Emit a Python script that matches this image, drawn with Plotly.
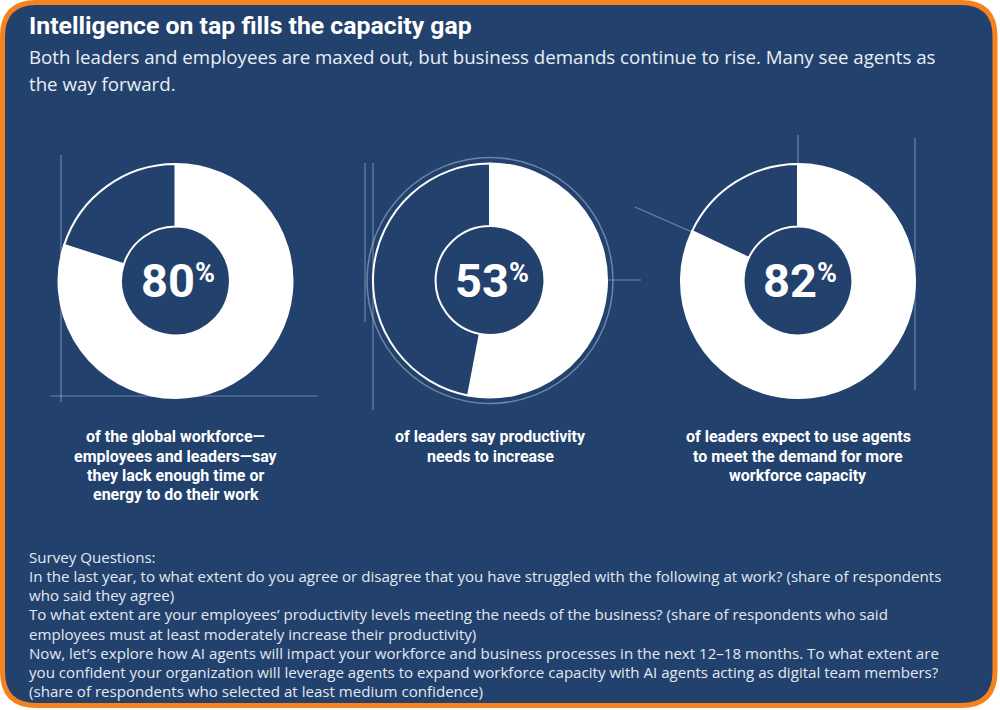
import plotly.graph_objects as go

W, H = 1000, 710

title = "Intelligence on tap fills the capacity gap"
subtitle_lines = ["Both leaders and employees are maxed out, but business demands continue to rise. Many see agents as",
                  "the way forward."]
pct = [80, 53, 82]
captions = [
    ["of the global workforce—", "employees and leaders—say", "they lack enough time or", "energy to do their work"],
    ["of leaders say productivity", "needs to increase"],
    ["of leaders expect to use agents", "to meet the demand for more", "workforce capacity"],
]
survey_lines = [
    "Survey Questions:",
    "In the last year, to what extent do you agree or disagree that you have struggled with the following at work? (share of respondents",
    "who said they agree)",
    "To what extent are your employees’ productivity levels meeting the needs of the business? (share of respondents who said",
    "employees must at least moderately increase their productivity)",
    "Now, let’s explore how AI agents will impact your workforce and business processes in the next 12–18 months. To what extent are",
    "you confident your organization will leverage agents to expand workforce capacity with AI agents acting as digital team members?",
    "(share of respondents who selected at least medium confidence)",
]

BG = "#22426d"
ORANGE = "#f5821f"
FAINT = "rgba(200,215,235,0.45)"
COND = "Roboto, Liberation Sans, sans-serif"
BODY = "Open Sans, Noto Sans, sans-serif"

def px(x):
    return x / W

def py(y):
    return 1 - y / H

centers = [(175.5, 281), (490, 280.5), (798, 281)]
R = 117

fig = go.Figure()
for (cx, cy), v in zip(centers, pct):
    fig.add_trace(go.Pie(
        values=[v, 100 - v],
        sort=False, direction="clockwise", rotation=0,
        hole=0.465,
        marker=dict(colors=["#ffffff", BG], line=dict(color="#ffffff", width=2)),
        textinfo="none", hoverinfo="skip", showlegend=False,
        domain=dict(x=[px(cx - R), px(cx + R)], y=[py(cy + R), py(cy - R)]),
    ))

shapes = []
x0, x1, y0, y1, r = 2.5, 995, 2.5, 705.5, 34
path = (f"M {px(x0 + r)} {py(y0)} L {px(x1 - r)} {py(y0)} Q {px(x1)} {py(y0)} {px(x1)} {py(y0 + r)} "
        f"L {px(x1)} {py(y1 - r)} Q {px(x1)} {py(y1)} {px(x1 - r)} {py(y1)} "
        f"L {px(x0 + r)} {py(y1)} Q {px(x0)} {py(y1)} {px(x0)} {py(y1 - r)} "
        f"L {px(x0)} {py(y0 + r)} Q {px(x0)} {py(y0)} {px(x0 + r)} {py(y0)} Z")
shapes.append(dict(type="path", xref="paper", yref="paper", path=path, fillcolor=BG,
                   line=dict(color=ORANGE, width=5), layer="below"))

def line(xa, ya, xb, yb, w=1.2):
    shapes.append(dict(type="line", xref="paper", yref="paper", x0=px(xa), y0=py(ya), x1=px(xb), y1=py(yb),
                       line=dict(color=FAINT, width=w), layer="below"))

line(61, 155, 61, 402)
line(50, 396, 318, 396)
line(365, 163, 365, 322)
line(373, 163, 373, 410)
line(607, 280, 641, 280)
line(635, 207, 692, 232)
line(798, 135, 798, 166)
line(915, 138, 915, 390)
shapes.append(dict(type="circle", xref="paper", yref="paper",
                   x0=px(490 - 123), x1=px(490 + 123), y0=py(280.5 + 123), y1=py(280.5 - 123),
                   line=dict(color=FAINT, width=1.5), layer="below"))

annotations = []

def txt(x, y, text, family, size, color, xanchor="left", bold=False):
    annotations.append(dict(x=px(x), y=py(y), xref="paper", yref="paper", xanchor=xanchor, yanchor="middle",
                            text=f"<b>{text}</b>" if bold else text, showarrow=False,
                            font=dict(family=family, size=size, color=color)))

txt(27, 26, title, COND, 24.8, "#ffffff", bold=True)
for i, s in enumerate(subtitle_lines):
    txt(27, 56 + i * 27.5, s, BODY, 18.7, "#e9eef5")
for (cx, cy), v, cap in zip(centers, pct, captions):
    txt(cx + 21, cy, str(v), COND, 47, "#ffffff", xanchor="right", bold=True)
    txt(cx + 17, cy - 8, "%", COND, 27, "#ffffff", xanchor="left", bold=True)
    for j, c in enumerate(cap):
        txt(cx, 437 + j * 19, c, COND, 16, "#ffffff", xanchor="center", bold=True)
for i, s in enumerate(survey_lines):
    txt(27, 557 + i * 19.15, s, BODY, 15.1, "#e2e8f0")

fig.update_layout(
    width=W, height=H, margin=dict(l=0, r=0, t=0, b=0),
    paper_bgcolor="#ffffff", plot_bgcolor="rgba(0,0,0,0)",
    shapes=shapes, annotations=annotations,
    xaxis=dict(visible=False), yaxis=dict(visible=False),
)
fig.write_html("out.html")
